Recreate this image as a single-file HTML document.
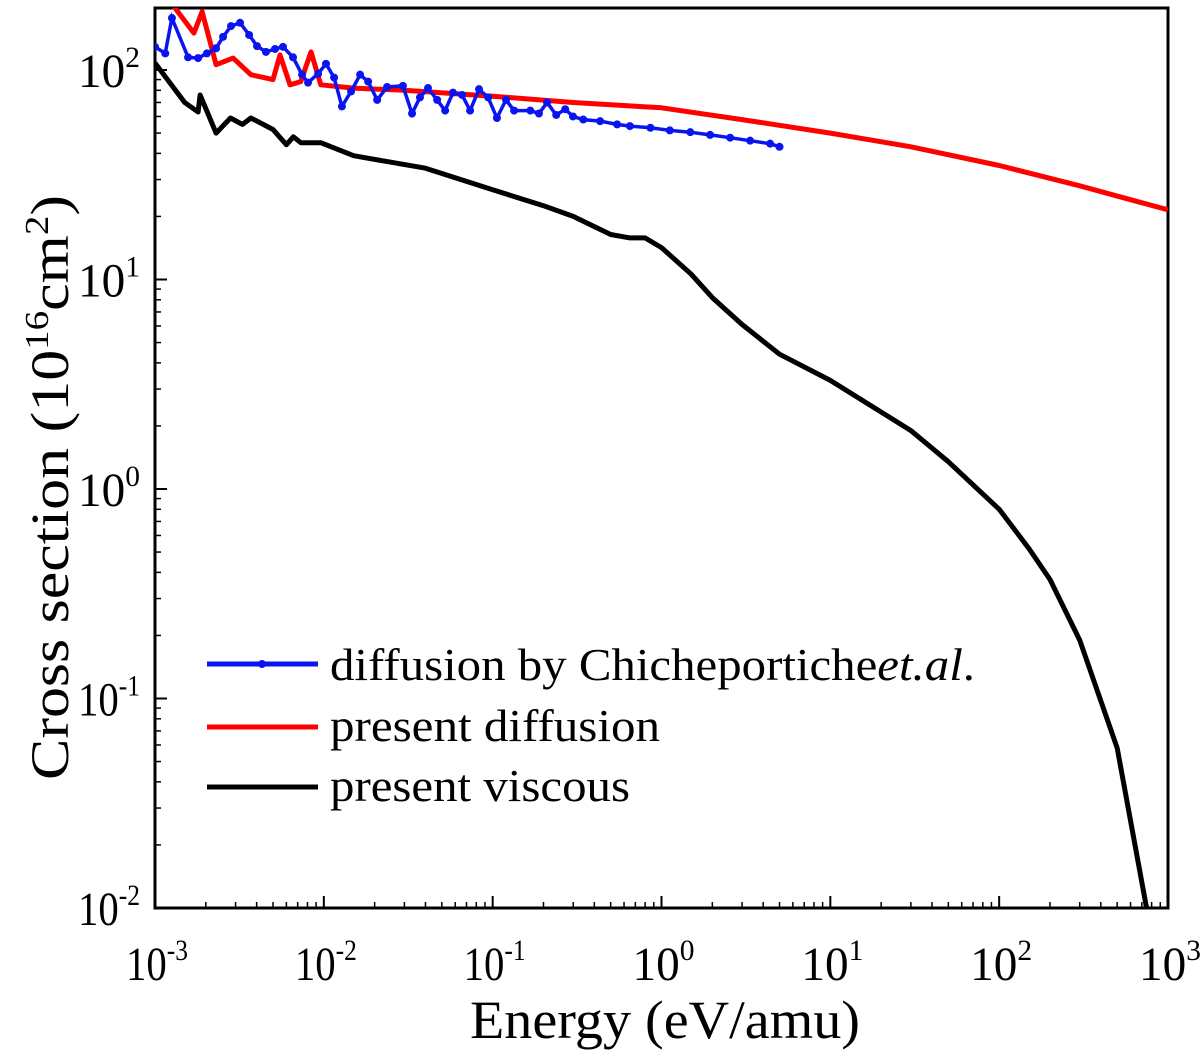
<!DOCTYPE html>
<html><head><meta charset="utf-8"><style>
body{margin:0;background:#fff}
svg text{font-family:"Liberation Serif",serif;fill:#000}
</style></head><body>
<svg id="chart" width="1200" height="1054" xmlns="http://www.w3.org/2000/svg">
<g id="axes"></g>
<g id="series"></g>
<g id="legend">
 <g>
  <line x1="207" y1="664" x2="318" y2="664" stroke="#0a14f0" stroke-width="5"/>
  <circle cx="262" cy="664" r="4" fill="#0a14f0"/>
  <text x="330" y="680" font-size="46" textLength="645" lengthAdjust="spacingAndGlyphs">diffusion by Chicheportiche<tspan font-style="italic">et.al</tspan>.</text>
 </g>
 <g>
  <line x1="207" y1="727" x2="318" y2="727" stroke="#f00" stroke-width="5"/>
  <text x="330" y="741" font-size="46" textLength="330" lengthAdjust="spacingAndGlyphs">present diffusion</text>
 </g>
 <g>
  <line x1="207" y1="787" x2="318" y2="787" stroke="#000" stroke-width="5"/>
  <text x="330" y="801" font-size="46" textLength="300" lengthAdjust="spacingAndGlyphs">present viscous</text>
 </g>
</g>
<text x="470" y="1038" font-size="54" textLength="390" lengthAdjust="spacingAndGlyphs">Energy (eV/amu)</text>
<text transform="translate(68,780) rotate(-90)" font-size="54" textLength="585" lengthAdjust="spacingAndGlyphs">Cross section (10<tspan font-size="34" dy="-20">16</tspan><tspan dy="20">cm</tspan><tspan font-size="34" dy="-20">2</tspan><tspan dy="20">)</tspan></text>
</svg>
<script>
const xTickExps=[-3,-2,-1,0,1,2,3];
const yTickExps=[-2,-1,0,1,2];
const redE=[1e-3,1.3e-3,1.7e-3,1.9e-3,2.3e-3,2.9e-3,3.7e-3,5e-3,5.5e-3,6.3e-3,7.3e-3,8.4e-3,9.6e-3,0.015,0.03,0.1,0.3,1,3,10,30,100,300,1000];
const redV=[240,200,150,190,106,114,95,90,118,85,88,122,85,82,80,75,70,66,58,50,43,35,28,21.5];
const blackE=[1e-3,1.5e-3,1.8e-3,1.85e-3,2.3e-3,2.8e-3,3.3e-3,3.7e-3,5e-3,6e-3,6.6e-3,7.3e-3,9.6e-3,0.015,0.024,0.04,0.1,0.2,0.3,0.5,0.65,0.8,1.0,1.5,2,3,5,10,30,50,100,150,200,300,500,750];
const blackV=[108,70,63,76,50,59,55,59,52,44,48,45,45,39,36.5,34,26.8,22.5,20,16.4,15.8,15.8,14.2,10.6,8.2,6.1,4.4,3.3,1.9,1.35,0.8,0.52,0.37,0.19,0.058,0.0098];
const blueE=[1e-3,1.15e-3,1.26e-3,1.57e-3,1.8e-3,2.03e-3,2.3e-3,2.53e-3,2.82e-3,3.19e-3,3.61e-3,4.02e-3,4.54e-3,5.14e-3,5.73e-3,6.57e-3,7.43e-3,8.06e-3,9.25e-3,0.0103,0.0115,0.0128,0.0145,0.0164,0.0183,0.0207,0.0237,0.0294,0.0333,0.0371,0.0414,0.0469,0.0523,0.0582,0.0659,0.0735,0.083,0.094,0.106,0.12,0.134,0.167,0.188,0.21,0.238,0.269,0.299,0.344,0.433,0.546,0.65,0.86,1.12,1.48,1.94,2.55,3.35,4.4,5.0];
const blueV=[129,120,177,115,114,120,127,144,162,168,147,130,122,126,129,115,95,87,96,107,92,67,79,95,88,72,83,84,62,74,82,72,64,78,76,64,81,74,59,72,64,64,62,70,61,65,60,58,57,55,54,53,51.5,50.5,49,47.5,46,44.5,43];
const X0=155,X1=1168,Y0=8,Y1=908;
const xs=e=>X0+(Math.log10(e)+3)/6*(X1-X0);
const ys=v=>908-(Math.log10(v)+2)*209.5;
const NS='http://www.w3.org/2000/svg';
function mk(t,a,p){const el=document.createElementNS(NS,t);for(const k in a)el.setAttribute(k,a[k]);p.appendChild(el);return el;}
const ax=document.getElementById('axes');
const frame=mk('rect',{x:X0,y:Y0,width:X1-X0,height:Y1-Y0,fill:'none',stroke:'#000','stroke-width':3},ax);


xTickExps.forEach((p,i)=>{
 const x=xs(Math.pow(10,p));
 mk('line',{x1:x,y1:Y1,x2:x,y2:Y1-12,stroke:'#000','stroke-width':2},ax);
 if(i<xTickExps.length-1)for(let m=2;m<10;m++){const xm=xs(m*Math.pow(10,p));mk('line',{x1:xm,y1:Y1,x2:xm,y2:Y1-6,stroke:'#000','stroke-width':1.5},ax);}
 const t=mk('text',{x:x-29,y:Y1+72,'font-size':48,textLength:62,lengthAdjust:'spacingAndGlyphs'},ax);
 
 
 t.innerHTML='10<tspan font-size="30" dy="-20">'+p+'</tspan>';
});
yTickExps.forEach((p,i)=>{
 const y=ys(Math.pow(10,p));
 mk('line',{x1:X0,y1:y,x2:X0+12,y2:y,stroke:'#000','stroke-width':2},ax);
 for(let m=2;m<10;m++){const v=m*Math.pow(10,p);const ym=ys(v);if(ym>Y0)mk('line',{x1:X0,y1:ym,x2:X0+6,y2:ym,stroke:'#000','stroke-width':1.5},ax);}
 const t=mk('text',{x:78,y:y+17,'font-size':48,textLength:62,lengthAdjust:'spacingAndGlyphs'},ax);
 
 
 t.innerHTML='10<tspan font-size="30" dy="-20">'+p+'</tspan>';
});
const sg=document.getElementById('series');
const cp=mk('clipPath',{id:'clip'},sg);
mk('rect',{x:X0,y:Y0,width:X1-X0,height:Y1-Y0},cp);
function path(E,V){return E.map((e,i)=>(i?'L':'M')+xs(e).toFixed(1)+' '+ys(V[i]).toFixed(1)).join('');}
const bl=mk('path',{d:path(blackE,blackV),fill:'none',stroke:'#000','stroke-width':5,'stroke-linejoin':'round','clip-path':'url(#clip)'},sg);


const rd=mk('path',{d:path(redE,redV),fill:'none',stroke:'#f00','stroke-width':5,'stroke-linejoin':'round','clip-path':'url(#clip)'},sg);


const bu=mk('path',{d:path(blueE,blueV),fill:'none',stroke:'#0a14f0','stroke-width':3.5,'clip-path':'url(#clip)'},sg);


blueE.forEach((e,i)=>{const c=mk('circle',{cx:xs(e),cy:ys(blueV[i]),r:4,fill:'#0a14f0','clip-path':'url(#clip)'},sg);
 
 });
</script>
</body></html>
